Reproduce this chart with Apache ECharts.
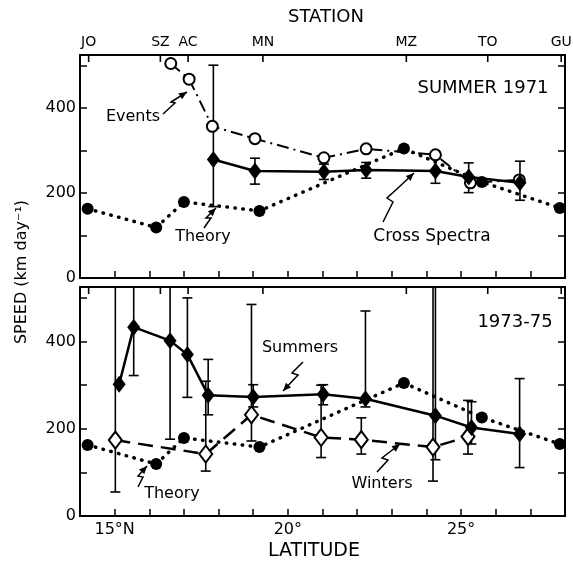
<!DOCTYPE html>
<html>
<head>
<meta charset="utf-8">
<script src="https://cdn.jsdelivr.net/npm/echarts@6/dist/echarts.min.js"></script>
<style>
html,body{margin:0;padding:0;background:#fff;}
#chart{width:573px;height:563px;}
</style>
</head>
<body>
<div id="chart"></div>
<script>
// ---------- data ----------
const stationNames = ['JO', 'SZ', 'AC', 'MN', 'MZ', 'TO', 'GU'];
const stationLat = [14.25, 16.32, 17.12, 19.28, 23.42, 25.77, 27.89];

const xTickLabels = {15: '15°N', 20: '20°', 25: '25°'};
const yTickLabels = [0, 200, 400];

// Theory (same in both panels)
const theoryLat = [14.22, 16.2, 17.0, 19.18, 23.35, 25.6, 27.85];
const theoryVal = [163, 119, 179, 158, 305, 226, 165];

// Summer 1971 panel
const eventsLat = [16.62, 17.15, 17.82, 19.05, 21.04, 22.26, 24.26, 25.27, 26.68];
const eventsVal = [505, 468, 357, 328, 283, 304, 290, 224, 231];

const crossLat = [17.85, 19.05, 21.04, 22.26, 24.26, 25.22, 26.7];
const crossVal = [279, 252, 250, 254, 252, 238, 224];
const crossLow = [168, 221, 232, 235, 223, 201, 183];
const crossHigh = [501, 282, 268, 272, 282, 271, 275];

// 1973-75 panel
const summersLat = [15.13, 15.55, 16.6, 17.1, 17.7, 19.0, 21.02, 22.24, 24.26, 25.3, 26.69];
const summersVal = [302, 433, 402, 370, 277, 273, 279, 269, 230, 203, 188];
const summersLow = [null, 322, 176, 272, 232, 250, 255, 250, 129, 165, 111];
const summersHigh = [null, 600, 600, 500, 359, 301, 301, 470, 600, 262, 315];

const wintersLat = [15.02, 17.63, 18.95, 20.96, 22.12, 24.19, 25.2];
const wintersVal = [174, 142, 232, 180, 175, 158, 182];
const wintersLow = [55, 103, 172, 134, 142, 80, 142];
const wintersHigh = [600, 309, 485, 300, 225, 600, 265];

// ---------- helpers ----------
const FONT = 'DejaVu Sans';
const pairs = (xs, ys) => xs.map((x, i) => [x, ys[i]]);
const errData = (xs, lo, hi) => xs.map((x, i) => [x, lo[i], hi[i]]).filter(d => d[1] != null);

function errRender(params, api) {
  const x = api.value(0), lo = api.value(1), hi = api.value(2);
  const cs = params.coordSys;
  const pLo = api.coord([x, lo]);
  const pHi = api.coord([x, hi]);
  const top = cs.y, bot = cs.y + cs.height;
  const yHi = Math.max(pHi[1], top);
  const yLo = Math.min(pLo[1], bot);
  const st = {stroke: '#000', lineWidth: 1.6};
  const ch = [{type: 'line', shape: {x1: pLo[0], y1: yLo, x2: pLo[0], y2: yHi}, style: st}];
  if (pHi[1] >= top) ch.push({type: 'line', shape: {x1: pLo[0] - 5, y1: pHi[1], x2: pLo[0] + 5, y2: pHi[1]}, style: st});
  if (pLo[1] <= bot) ch.push({type: 'line', shape: {x1: pLo[0] - 5, y1: pLo[1], x2: pLo[0] + 5, y2: pLo[1]}, style: st});
  return {type: 'group', children: ch};
}

function stationRender(withLabels) {
  return function (params, api) {
    const p = api.coord([api.value(0), 0]);
    const top = params.coordSys.y;
    const ch = [{type: 'line', shape: {x1: p[0], y1: top, x2: p[0], y2: top + 7}, style: {stroke: '#000', lineWidth: 1.6}}];
    if (withLabels) ch.push({type: 'text', style: {text: stationNames[params.dataIndex], x: p[0], y: top - 6,
      textAlign: 'center', textVerticalAlign: 'bottom', fontSize: 14, fontFamily: FONT, fill: '#000'}});
    return {type: 'group', children: ch};
  };
}

function xAxis(gridIndex, labels) {
  return {
    type: 'value', gridIndex, min: 14, max: 28, interval: 1, position: 'bottom',
    axisLine: {show: true, lineStyle: {color: '#000', width: 2}},
    axisTick: {show: true, inside: true, length: 7, lineStyle: {color: '#000', width: 1.5}},
    axisLabel: {show: labels, margin: 6, fontSize: 16, fontFamily: FONT, color: '#000',
      formatter: v => xTickLabels[v] || ''},
    splitLine: {show: false}
  };
}
function yAxis(gridIndex, pos, labels) {
  return {
    type: 'value', gridIndex, min: 0, max: 525, interval: 100, position: pos,
    axisLine: {show: true, lineStyle: {color: '#000', width: 2}},
    axisTick: {show: true, inside: true, length: 7, lineStyle: {color: '#000', width: 1.5}},
    axisLabel: {show: labels, margin: 4, fontSize: 16, fontFamily: FONT, color: '#000',
      formatter: v => (yTickLabels.indexOf(v) >= 0 ? String(v) : '')},
    splitLine: {show: false}
  };
}

function arrow(pts) {
  const n = pts.length;
  const [x1, y1] = pts[n - 2], [x2, y2] = pts[n - 1];
  const a = Math.atan2(y2 - y1, x2 - x1);
  const L = 8, W = 3.5;
  const bx = x2 - L * Math.cos(a), by = y2 - L * Math.sin(a);
  const px = -Math.sin(a) * W, py = Math.cos(a) * W;
  return [
    {type: 'polyline', shape: {points: pts}, style: {stroke: '#000', lineWidth: 1.5, fill: null}},
    {type: 'polygon', shape: {points: [[x2, y2], [bx + px, by + py], [bx - px, by - py]]}, style: {fill: '#000'}}
  ];
}
function txt(text, x, y, size) {
  return {type: 'text', x, y, style: {text, fontSize: size, fontFamily: FONT, fill: '#000',
    textAlign: 'center', textVerticalAlign: 'middle'}};
}

const dotted = {color: '#000', width: 3.5, type: [0.5, 7.5], cap: 'round'};

const option = {
  animation: false,
  backgroundColor: '#fff',
  grid: [
    {left: 80, right: 8, top: 55, height: 223, show: true, borderColor: '#000', borderWidth: 2, backgroundColor: 'transparent'},
    {left: 80, right: 8, top: 287, height: 229, show: true, borderColor: '#000', borderWidth: 2, backgroundColor: 'transparent'}
  ],
  xAxis: [xAxis(0, false), xAxis(1, true)],
  yAxis: [yAxis(0, 'left', true), yAxis(0, 'right', false), yAxis(1, 'left', true), yAxis(1, 'right', false)],
  series: [
    // ---- top panel ----
    {type: 'custom', xAxisIndex: 0, yAxisIndex: 0, z: 1, renderItem: errRender, data: errData(crossLat, crossLow, crossHigh)},
    {type: 'custom', xAxisIndex: 0, yAxisIndex: 0, z: 1, renderItem: stationRender(true), data: stationLat.map(x => [x, 0]), clip: false},
    {type: 'line', xAxisIndex: 0, yAxisIndex: 0, z: 2, data: pairs(theoryLat, theoryVal),
      lineStyle: dotted, symbol: 'circle', symbolSize: 12, itemStyle: {color: '#000'}},
    {type: 'line', xAxisIndex: 0, yAxisIndex: 0, z: 3, data: pairs(eventsLat, eventsVal),
      lineStyle: {color: '#000', width: 2, type: [12, 5, 2, 5]}, symbol: 'circle', symbolSize: 11,
      itemStyle: {color: '#fff', borderColor: '#000', borderWidth: 2}},
    {type: 'line', xAxisIndex: 0, yAxisIndex: 0, z: 4, data: pairs(crossLat, crossVal),
      lineStyle: {color: '#000', width: 2.5}, symbol: 'diamond', symbolSize: [13, 17], itemStyle: {color: '#000'}},
    // ---- bottom panel ----
    {type: 'custom', xAxisIndex: 1, yAxisIndex: 2, z: 1, renderItem: errRender, data: errData(summersLat, summersLow, summersHigh)},
    {type: 'custom', xAxisIndex: 1, yAxisIndex: 2, z: 1, renderItem: errRender, data: errData(wintersLat, wintersLow, wintersHigh)},
    {type: 'custom', xAxisIndex: 1, yAxisIndex: 2, z: 1, renderItem: stationRender(false), data: stationLat.map(x => [x, 0]), clip: false},
    {type: 'line', xAxisIndex: 1, yAxisIndex: 2, z: 2, data: pairs(theoryLat, theoryVal),
      lineStyle: dotted, symbol: 'circle', symbolSize: 12, itemStyle: {color: '#000'}},
    {type: 'line', xAxisIndex: 1, yAxisIndex: 2, z: 3, data: pairs(wintersLat, wintersVal),
      lineStyle: {color: '#000', width: 2.5, type: [15, 8]}, symbol: 'diamond', symbolSize: [13, 17],
      itemStyle: {color: '#fff', borderColor: '#000', borderWidth: 2}},
    {type: 'line', xAxisIndex: 1, yAxisIndex: 2, z: 4, data: pairs(summersLat, summersVal),
      lineStyle: {color: '#000', width: 2.5}, symbol: 'diamond', symbolSize: [13, 17], itemStyle: {color: '#000'}}
  ],
  graphic: [
    txt('STATION', 326, 17, 18),
    txt('LATITUDE', 314, 551, 19),
    {type: 'text', x: 22, y: 272, rotation: Math.PI / 2,
      style: {text: 'SPEED (km day⁻¹)', fontSize: 16, fontFamily: FONT, fill: '#000', textAlign: 'center', textVerticalAlign: 'middle'}},
    txt('SUMMER 1971', 483, 88, 18),
    txt('Events', 133, 117, 16),
    txt('Theory', 203, 237, 16),
    txt('Cross Spectra', 432, 237, 17),
    txt('1973-75', 515, 322, 18),
    txt('Summers', 300, 348, 16),
    txt('Theory', 172, 494, 16),
    txt('Winters', 382, 484, 16),
    ...arrow([[163, 114], [175, 103], [171, 102], [187, 92]]),
    ...arrow([[204, 228], [211, 218], [206, 218], [216, 208]]),
    ...arrow([[383, 222], [393, 202], [387, 198], [398, 188], [414, 173]]),
    ...arrow([[303, 362], [292, 373], [298, 375], [283, 391]]),
    ...arrow([[138, 487], [143, 477], [138, 476], [147, 466]]),
    ...arrow([[377, 472], [388, 460], [382, 458], [400, 444]])
  ]
};

const chart = echarts.init(document.getElementById('chart'), null, {renderer: 'canvas'});
chart.setOption(option);
</script>
</body>
</html>
